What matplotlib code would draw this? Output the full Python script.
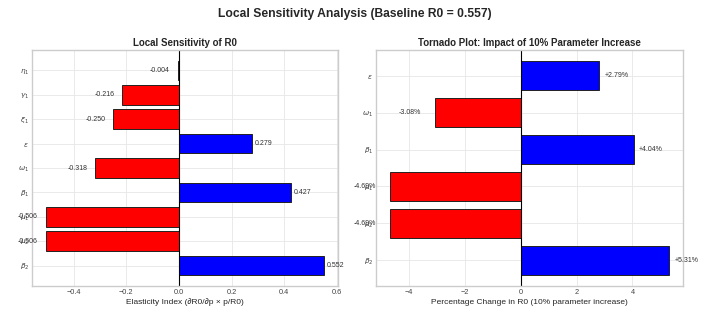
import matplotlib
matplotlib.use("Agg")
import matplotlib.pyplot as plt
import numpy as np

# Elasticity indices, bottom to top (sorted by |value| descending)
elast_labels = [r"$\beta_2$", r"$\mu_2$", r"$\mu_1$", r"$\beta_1$", r"$\omega_1$",
                r"$\epsilon$", r"$\xi_1$", r"$\gamma_1$", r"$\eta_1$"]
elast_values = [0.552, -0.506, -0.506, 0.427, -0.318, 0.279, -0.250, -0.216, -0.004]

# Tornado: % change in R0 for a 10% parameter increase, bottom to top
tornado_labels = [r"$\beta_2$", r"$\mu_2$", r"$\mu_1$", r"$\beta_1$", r"$\omega_1$", r"$\epsilon$"]
tornado_values = [5.31, -4.69, -4.69, 4.04, -3.08, 2.79]

baseline_r0 = 0.557

plt.style.use("seaborn-v0_8-whitegrid")
plt.rcParams["font.family"] = ["Liberation Sans", "DejaVu Sans"]

fig = plt.figure(figsize=(7.09, 3.14), dpi=100)
ax1 = fig.add_axes([32 / 709, 28 / 314, 306 / 709, 236 / 314])
ax2 = fig.add_axes([376 / 709, 28 / 314, 307 / 709, 236 / 314])


def colors_for(vals):
    return ["blue" if v > 0 else "red" for v in vals]


# Left: elasticity bars
y1 = np.arange(len(elast_values))
ax1.barh(y1, elast_values, color=colors_for(elast_values), edgecolor="#222222", linewidth=0.7)
ax1.axvline(0, color="black", linewidth=0.8)
ax1.set_yticks(y1)
ax1.set_yticklabels(elast_labels)
for yi, v in zip(y1, elast_values):
    if v > 0:
        ax1.text(v + 0.01, yi, f"{v:.3f}", va="center", ha="left", fontsize=5, color="#333333")
    else:
        ax1.text(v - 0.03, yi, f"{v:.3f}", va="center", ha="right", fontsize=5, color="#333333")
ax1.set_title("Local Sensitivity of R0", fontsize=7, fontweight="bold", pad=3)
ax1.set_xlabel("Elasticity Index (∂R0/∂p × p/R0)", fontsize=6, labelpad=2)

# Right: tornado plot
y2 = np.arange(len(tornado_values))
ax2.barh(y2, tornado_values, color=colors_for(tornado_values), edgecolor="#222222", linewidth=0.7)
ax2.axvline(0, color="black", linewidth=0.8)
ax2.set_yticks(y2)
ax2.set_yticklabels(tornado_labels)
for yi, v in zip(y2, tornado_values):
    if v > 0:
        ax2.text(v + 0.2, yi, f"+{v:.2f}%", va="center", ha="left", fontsize=5, color="#333333")
    else:
        ax2.text(v - 0.5, yi, f"{v:.2f}%", va="center", ha="right", fontsize=5, color="#333333")
ax2.set_title("Tornado Plot: Impact of 10% Parameter Increase", fontsize=7, fontweight="bold", pad=3)
ax2.set_xlabel("Percentage Change in R0 (10% parameter increase)", fontsize=6, labelpad=2)

for ax in (ax1, ax2):
    ax.tick_params(axis="both", labelsize=5.3, pad=2, colors="#444444")
    ax.grid(True, color="#e6e6e6", linewidth=0.6)

fig.suptitle(f"Local Sensitivity Analysis (Baseline R0 = {baseline_r0:.3f})",
             fontsize=8.7, fontweight="bold", y=0.975)

fig.savefig("out.png", dpi=100)
plt.close(fig)
